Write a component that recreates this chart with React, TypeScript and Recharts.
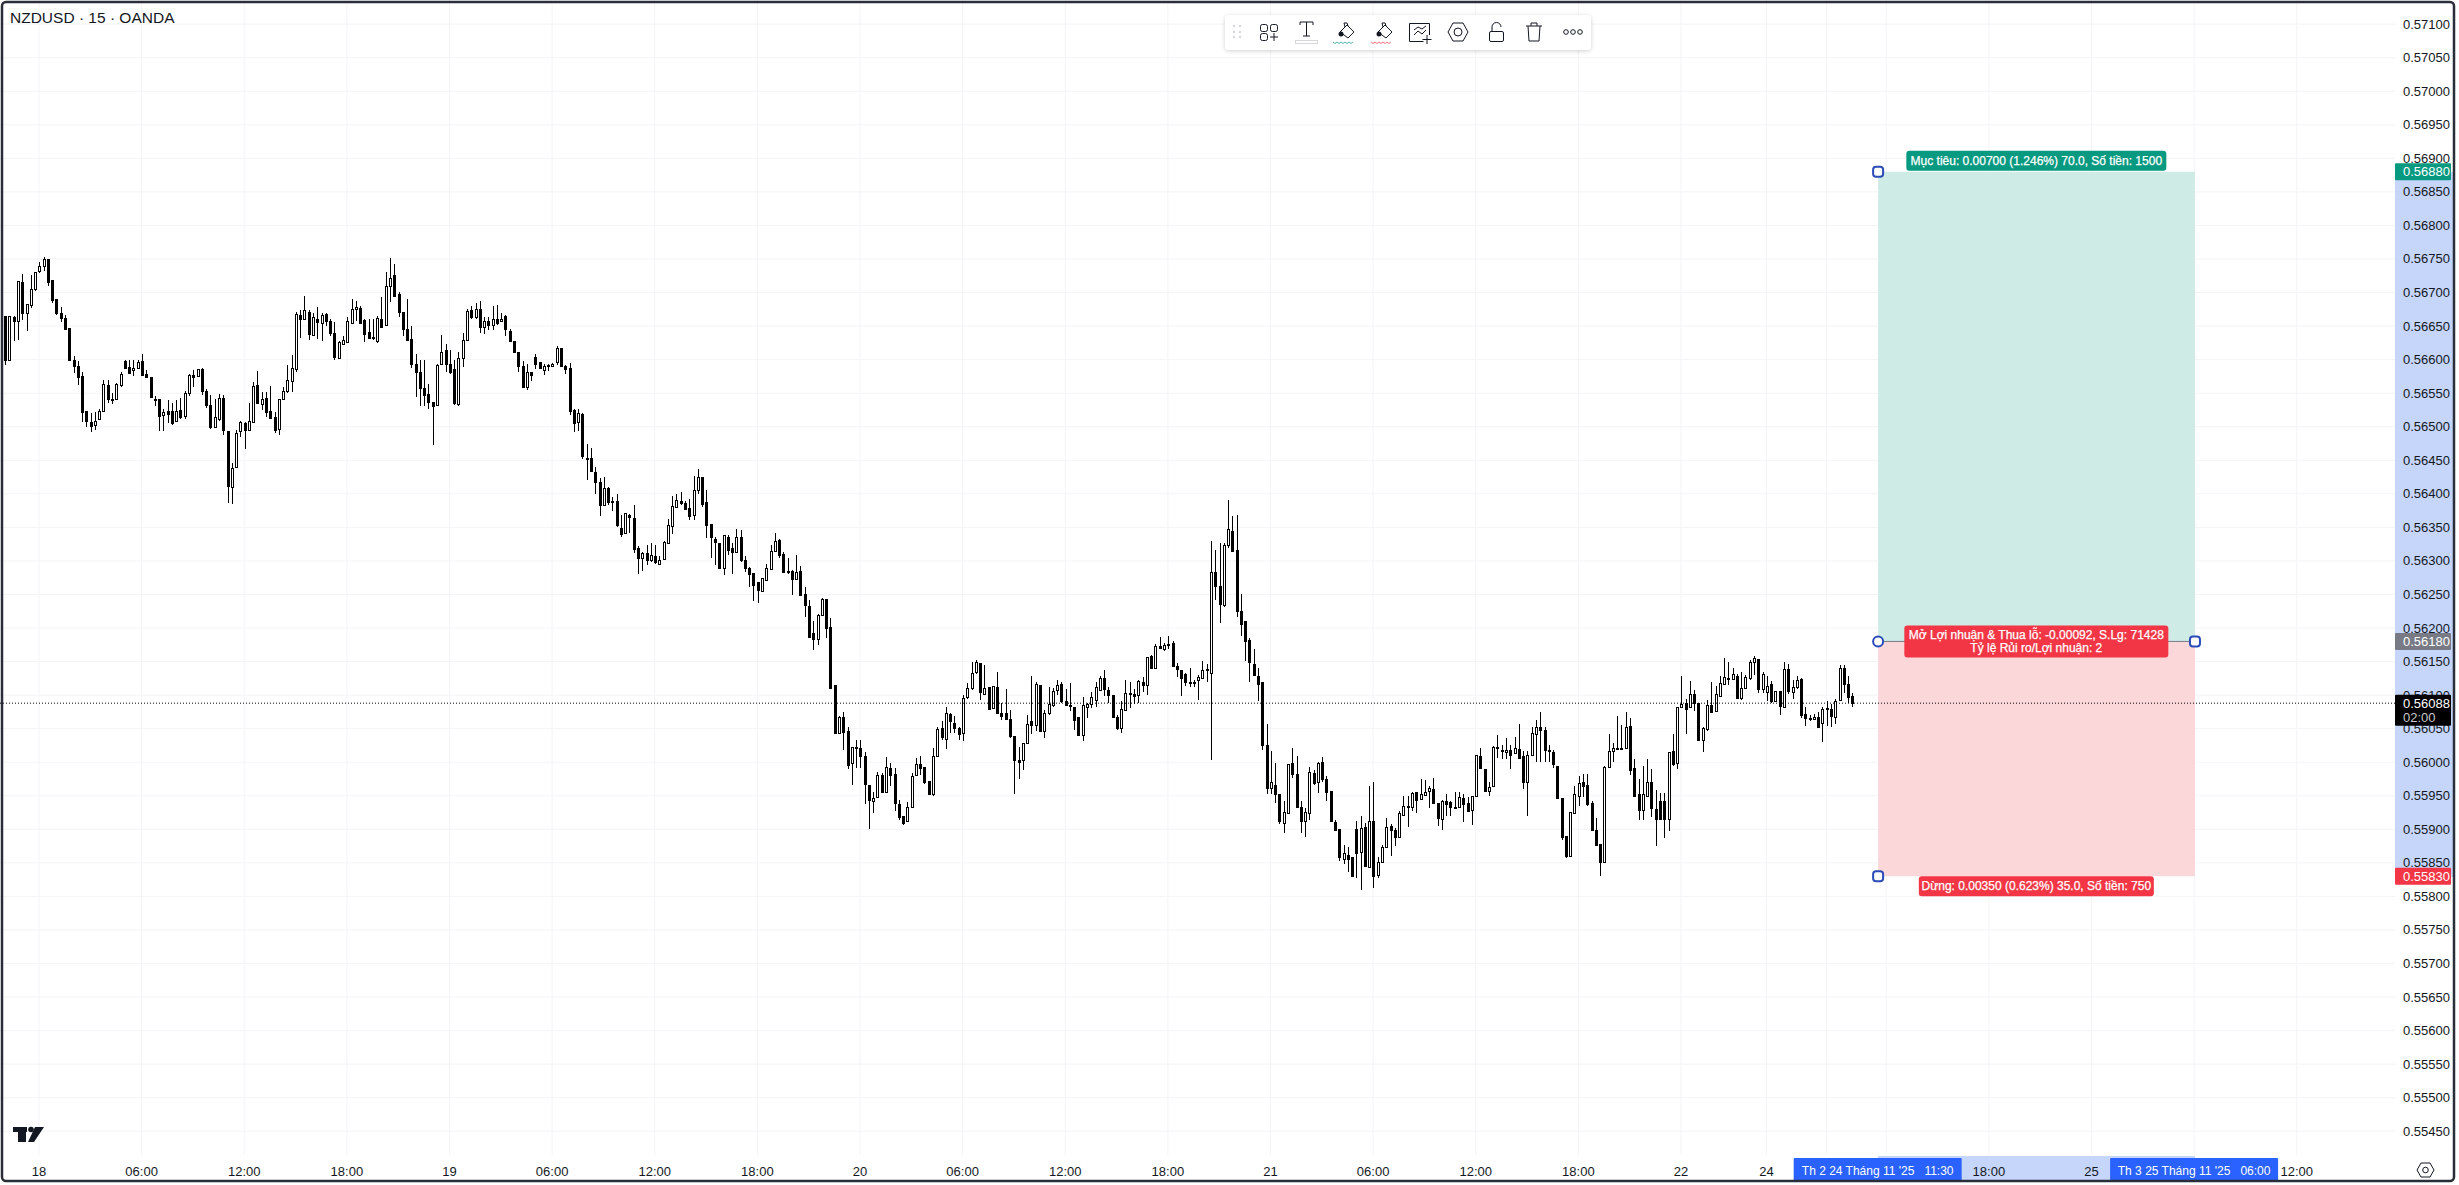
import React from 'react';
import {
  Bar,
  CartesianGrid,
  ComposedChart,
  ReferenceArea,
  ReferenceDot,
  ReferenceLine,
  XAxis,
  YAxis,
} from 'recharts';

// NZDUSD 15m, prices stored as price x 100000, rows are [open, high, low, close]
const day18 = [
  [56665,56665,56592,56599],[56599,56665,56599,56665],[56664,56665,56628,56658],[56658,56717,56629,56717],
  [56715,56728,56659,56670],[56669,56683,56643,56683],[56681,56726,56677,56705],[56705,56731,56703,56731],
  [56732,56746,56730,56739],[56740,56753,56732,56750],[56750,56750,56710,56715],[56718,56718,56683,56689],
  [56690,56690,56666,56670],[56670,56678,56656,56662],[56662,56666,56643,56645],[56647,56647,56600,56600],
  [56599,56606,56580,56591],[56591,56598,56562,56574],[56575,56581,56506,56522],[56524,56524,56500,56508],
  [56507,56520,56491,56501],[56502,56522,56495,56509],[56512,56526,56509,56523],[56523,56569,56523,56563],
  [56562,56570,56535,56541],[56541,56551,56534,56540],[56542,56565,56542,56563],[56562,56582,56560,56578],
  [56598,56599,56588,56588],[56589,56599,56579,56580],[56585,56600,56576,56588],[56588,56599,56586,56597],
  [56598,56608,56576,56577],[56578,56584,56574,56574],[56574,56574,56542,56545],[56542,56546,56531,56540],
  [56541,56541,56494,56516],[56518,56527,56494,56522],[56523,56540,56505,56519],[56523,56535,56502,56506],
  [56509,56540,56507,56524],[56525,56543,56511,56514],[56516,56554,56512,56550],[56551,56579,56546,56577],
  [56577,56584,56559,56574],[56576,56586,56574,56586],[56586,56588,56548,56554],[56553,56556,56527,56532],
  [56533,56547,56496,56499],[56500,56542,56499,56514],[56511,56549,56509,56543],[56543,56547,56488,56495],
  [56493,56493,56385,56411],[56410,56446,56385,56438],[56440,56495,56440,56490],[56493,56509,56485,56507],
  [56505,56507,56467,56495],[56495,56536,56494,56508],[56507,56567,56507,56560],[56562,56583,56536,56536],
  [56534,56552,56525,56542],[56543,56552,56515,56522],[56523,56560,56512,56513],[56514,56522,56491,56495],
  [56496,56542,56489,56542],[56542,56559,56542,56553],[56553,56592,56550,56569],[56568,56607,56552,56587],
  [56586,56671,56582,56668],[56666,56674,56632,56660],[56661,56695,56659,56674],[56671,56674,56629,56638],
  [56636,56669,56634,56663],[56661,56678,56631,56656],[56655,56669,56628,56666],[56668,56669,56649,56658],
  [56658,56660,56634,56639],[56639,56656,56599,56604],[56602,56628,56601,56627],[56624,56635,56622,56630],
  [56627,56663,56626,56657],[56654,56691,56653,56675],[56675,56688,56658,56679],[56677,56680,56653,56655],
  [56659,56661,56627,56638],[56641,56660,56630,56632],[56633,56661,56630,56632],[56628,56665,56625,56662],
  [56661,56694,56648,56649],[56652,56731,56651,56710],[56710,56752,56686,56722],[56726,56743,56694,56695],
  [56698,56701,56664,56671],[56671,56671,56635,56646],[56646,56691,56629,56629],[56631,56650,56587,56593],
  [56593,56609,56545,56581],[56581,56599,56531,56557],[56558,56600,56531,56548],[56549,56563,56526,56537],
  [56537,56537,56473,56531],[56532,56594,56532,56592],[56594,56637,56592,56612],[56614,56623,56582,56594],
];
const day19 = [
  [56594,56615,56579,56581],[56586,56599,56532,56536],[56534,56612,56531,56603],[56603,56640,56589,56630],
  [56630,56675,56630,56673],[56674,56680,56661,56663],[56664,56685,56661,56675],[56675,56687,56639,56649],
  [56649,56663,56637,56657],[56657,56663,56644,56651],[56652,56680,56644,56661],[56661,56681,56651,56655],
  [56657,56669,56656,56661],[56665,56666,56634,56645],[56642,56645,56628,56628],[56628,56628,56611,56612],
  [56612,56612,56582,56591],[56591,56598,56559,56559],[56559,56594,56555,56581],[56581,56582,56569,56577],
  [56604,56609,56586,56593],[56596,56597,56586,56587],[56585,56593,56576,56591],[56592,56594,56583,56591],
  [56591,56595,56590,56594],[56596,56620,56592,56618],[56617,56617,56588,56591],[56591,56592,56578,56586],
  [56587,56595,56517,56524],[56525,56527,56492,56506],[56507,56527,56494,56521],[56519,56521,56452,56456],
  [56454,56475,56421,56452],[56454,56468,56433,56434],[56432,56440,56400,56417],[56417,56423,56366,56383],
  [56383,56425,56383,56408],[56408,56410,56383,56388],[56389,56396,56375,56388],[56390,56400,56351,56353],
  [56349,56369,56336,56340],[56341,56372,56340,56371],[56369,56370,56342,56365],[56364,56383,56312,56318],
  [56319,56322,56281,56305],[56304,56313,56284,56312],[56312,56324,56294,56301],[56301,56327,56298,56309],
  [56307,56324,56296,56298],[56296,56307,56294,56301],[56303,56330,56302,56328],[56327,56362,56327,56353],
  [56352,56397,56341,56382],[56380,56400,56379,56391],[56390,56403,56384,56386],[56387,56389,56375,56377],
  [56379,56392,56361,56367],[56368,56426,56360,56406],[56405,56437,56399,56425],[56425,56425,56381,56385],
  [56388,56406,56334,56353],[56355,56355,56305,56335],[56333,56336,56294,56328],[56327,56327,56290,56290],
  [56289,56338,56278,56338],[56336,56338,56308,56316],[56319,56327,56281,56314],[56313,56348,56312,56336],
  [56336,56346,56298,56302],[56301,56308,56284,56289],[56289,56291,56261,56280],[56282,56282,56241,56264],
  [56268,56269,56238,56256],[56255,56274,56255,56274],[56271,56296,56270,56289],[56288,56324,56288,56315],
  [56315,56341,56314,56330],[56331,56333,56304,56309],[56311,56313,56283,56284],[56285,56305,56281,56284],
  [56285,56287,56250,56273],[56273,56309,56272,56284],[56285,56292,56247,56249],[56250,56261,56217,56234],
  [56233,56242,56187,56187],[56192,56211,56168,56184],[56184,56221,56175,56219],[56219,56245,56219,56244],
  [56244,56244,56186,56200],[56201,56215,56111,56111],[56115,56115,56043,56043],[56044,56069,56042,56067],
  [56068,56075,56018,56045],[56046,56053,55991,55996],[55999,56022,55966,56022],[56022,56033,55991,56021],
];
const day20 = [
  [56021,56033,55991,56009],[56010,56015,55937,55968],[55966,55966,55901,55943],[55942,55956,55924,55947],
  [55948,55985,55948,55981],[55981,55984,55955,55956],[55956,56008,55956,55993],[55992,55999,55964,55981],
  [55982,55991,55927,55939],[55937,55943,55913,55919],[55920,55920,55907,55909],[55912,55940,55912,55934],
  [55933,55984,55933,55980],[55981,56006,55980,55997],[55998,56009,55981,55992],[55993,55993,55968,55970],
  [55972,55972,55952,55953],[55953,56021,55949,56009],[56009,56053,56009,56050],[56051,56061,56033,56038],
  [56034,56082,56019,56073],[56072,56074,56044,56061],[56058,56069,56043,56051],[56051,56053,56034,56042],
  [56044,56100,56031,56096],[56097,56118,56094,56110],[56110,56150,56109,56133],[56134,56153,56132,56149],
  [56148,56148,56093,56104],[56102,56145,56101,56110],[56112,56112,56077,56079],[56081,56113,56080,56113],
  [56112,56134,56071,56073],[56074,56088,56062,56069],[56074,56109,56063,56064],[56064,56078,56037,56039],
  [56039,56039,55953,56004],[56004,56022,55974,56001],[56003,56029,55989,56028],[56029,56071,56029,56057],
  [56061,56129,56043,56056],[56056,56120,56047,56117],[56115,56115,56046,56046],[56047,56078,56036,56074],
  [56073,56112,56071,56087],[56085,56110,56081,56106],[56107,56123,56100,56115],[56117,56120,56088,56091],
  [56091,56109,56083,56086],[56086,56118,56076,56085],[56082,56082,56048,56063],[56067,56067,56041,56041],
  [56040,56097,56031,56086],[56082,56089,56066,56087],[56087,56105,56081,56097],[56093,56119,56081,56112],
  [56108,56128,56107,56125],[56126,56138,56099,56109],[56108,56112,56088,56100],[56100,56100,56066,56068],
  [56067,56071,56049,56051],[56051,56091,56043,56079],[56078,56123,56077,56103],[56103,56120,56081,56102],
  [56101,56109,56086,56098],[56100,56123,56088,56121],[56120,56127,56105,56115],[56115,56157,56100,56157],
  [56158,56160,56139,56140],[56140,56176,56140,56173],[56173,56187,56169,56170],[56169,56177,56165,56174],
  [56176,56188,56169,56176],[56177,56180,56142,56143],[56143,56148,56127,56139],[56138,56138,56099,56126],
  [56131,56133,56113,56119],[56120,56140,56112,56120],[56120,56123,56113,56120],[56122,56130,56093,56127],
  [56126,56151,56125,56138],[56139,56147,56120,56139],[56133,56329,56002,56283],[56283,56317,56242,56262],
  [56263,56327,56208,56236],[56234,56327,56232,56324],[56324,56391,56319,56347],[56345,56367,56313,56315],
  [56317,56369,56217,56225],[56226,56250,56187,56206],[56210,56210,56151,56180],[56182,56185,56119,56149],
  [56147,56168,56128,56130],[56129,56141,56092,56117],[56119,56119,56018,56025],[56025,56057,55952,55962],
];
const day21 = [
  [55961,56016,55952,55970],[55966,55999,55940,55953],[55952,55952,55907,55912],[55910,55942,55894,55926],
  [55925,55998,55924,55998],[55999,56021,55976,55983],[55983,56010,55934,55934],[55934,55942,55894,55913],
  [55913,55932,55889,55926],[55924,55993,55914,55986],[55984,55989,55967,55969],[55971,56001,55955,55999],
  [56001,56008,55971,55975],[55975,55979,55942,55955],[55957,55957,55912,55912],[55911,55914,55897,55899],
  [55900,55900,55852,55858],[55856,55876,55847,55865],[55861,55874,55836,55856],[55859,55859,55829,55831],
  [55900,55912,55827,55864],[55866,55920,55809,55902],[55903,55910,55844,55846],[55844,55964,55842,55912],
  [55912,55970,55812,55831],[55832,55859,55827,55852],[55852,55877,55851,55874],[55873,55917,55873,55904],
  [55905,55908,55860,55899],[55899,55902,55875,55889],[55889,55927,55888,55925],[55922,55950,55920,55935],
  [55935,55949,55903,55933],[55934,55955,55927,55954],[55955,55956,55925,55944],[55945,55975,55944,55952],
  [55951,55974,55950,55955],[55957,55964,55931,55961],[55960,55976,55938,55939],[55939,55939,55904,55917],
  [55916,55944,55900,55942],[55942,55952,55919,55937],[55940,55942,55919,55933],[55934,55955,55932,55934],
  [55933,55955,55932,55948],[55947,55953,55912,55938],[55939,55948,55927,55928],[55929,55950,55907,55950],
  [55950,56011,55950,56011],[56010,56021,55990,55991],[55990,55990,55955,55957],[55957,55971,55950,55963],
  [55965,56024,55964,56023],[56023,56041,56006,56021],[56018,56025,56004,56016],[56015,56036,56004,56018],
  [56018,56025,55989,56011],[56014,56037,56011,56021],[56019,56057,56005,56006],[56010,56016,55959,55970],
  [55971,56016,55919,56011],[56011,56052,56010,56043],[56042,56063,56001,56053],[56053,56075,56001,56048],
  [56048,56053,56001,56018],[56018,56026,56000,56017],[56015,56018,55991,55997],[55995,55995,55947,55947],
  [55946,55946,55884,55889],[55890,55890,55857,55860],[55860,55926,55859,55926],[55925,55964,55924,55952],
  [55950,55979,55935,55969],[55970,55982,55947,55964],[55966,55983,55935,55937],[55939,55942,55897,55899],
  [55899,55917,55876,55877],[55878,55878,55830,55852],[55852,55994,55851,55993],[55993,56042,55991,56017],
  [56016,56029,56001,56021],[56021,56069,56020,56021],[56021,56056,56020,56021],[56021,56075,56020,56053],
  [56054,56066,55981,55989],[55991,56005,55950,55950],[55952,55975,55914,55929],[55929,55995,55915,55953],
  [55950,56005,55949,55970],[55970,55990,55918,55932],[55930,55959,55876,55916],[55942,55954,55915,55916],
  [55942,55954,55887,55916],[55916,56015,55898,56015],[56016,56042,55995,55998],[55999,56082,55990,56082],
];
const day22 = [
  [56083,56128,56082,56087],[56088,56094,56042,56080],[56082,56121,56081,56101],[56101,56107,56075,56088],
  [56088,56088,56033,56033],[56033,56053,56016,56051],[56050,56092,56046,56086],[56086,56119,56073,56075],
  [56076,56114,56075,56101],[56099,56128,56098,56118],[56117,56156,56116,56127],[56125,56149,56115,56125],
  [56124,56141,56123,56131],[56129,56131,56095,56096],[56096,56135,56094,56110],[56110,56130,56110,56127],
  [56125,56153,56123,56149],[56150,56158,56130,56155],[56154,56154,56103,56109],[56109,56134,56103,56132],
];
const day24 = [
  [56104,56129,56092,56113],[56116,56121,56088,56091],[56091,56106,56089,56106],[56106,56106,56070,56084],
  [56082,56150,56081,56139],[56139,56147,56102,56106],[56104,56123,56095,56112],[56112,56129,56110,56122],
  [56124,56126,56066,56070],[56072,56083,56055,56066],[56066,56071,56062,56066],[56065,56072,56063,56068],
  [56067,56075,56051,56053],[56059,56083,56031,56079],[56081,56091,56053,56080],[56080,56087,56052,56069],
  [56068,56094,56056,56091],[56092,56145,56092,56140],[56140,56145,56103,56117],[56117,56128,56088,56097],
  [56098,56103,56082,56088],
];

const priceTicks = [
  57100,57050,57000,56950,56900,56850,56800,56750,56700,56650,56600,56550,56500,56450,56400,56350,56300,56250,
  56200,56150,56100,56050,56000,55950,55900,55850,55800,55750,55700,55650,55600,55550,55500,55450,
];
const badgeTicks = [56880, 56180, 55830, 56088];
const timeTicks = [0,24,48,72,96,120,144,168,192,216,240,264,288,312,336,360,384,404,430,456,480,504,528];
const timeLabels = [
  '18','06:00','12:00','18:00','19','06:00','12:00','18:00','20','06:00','12:00','18:00','21','06:00','12:00',
  '18:00','22','24',"Th 2 24 Tháng 11 '25   11:30",'18:00','25',"Th 3 25 Tháng 11 '25   06:00",'12:00',
];
const gridTimes = [0,24,48,72,96,120,144,168,192,216,240,264,288,312,336,360,384,404,418,432,456,480,504,528];

const rows = [...day18, ...day19, ...day20, ...day21, ...day22, ...day24].map(([open, high, low, close], k) => ({
  i: k - 8,
  open,
  close,
  range: [low, high],
}));

const font = '"Liberation Sans", Arial, sans-serif';
const ink = '#131722';
const badgeColors: Record<number, string> = { 56880: '#089981', 56180: '#787b86', 55830: '#f23645', 56088: '#000000' };

const Candle = (props: any) => {
  const { x, y, width, height, payload } = props;
  const [low, high] = payload.range;
  const yOf = (p: number) => (high === low ? y : y + ((high - p) / (high - low)) * height);
  const cx = Math.round(x + width / 2);
  const top = Math.round(yOf(Math.max(payload.open, payload.close)));
  const bottom = Math.max(Math.round(yOf(Math.min(payload.open, payload.close))), top + 1);
  const up = payload.close > payload.open;
  return (
    <g>
      <rect x={cx} y={Math.round(y)} width={1} height={Math.max(Math.round(height), 1)} fill="#000" />
      {up ? (
        <rect x={cx - 0.5} y={top + 0.5} width={2} height={bottom - top} fill="#fff" stroke="#000" strokeWidth={1} />
      ) : (
        <rect x={cx - 1} y={top} width={3} height={bottom - top + 1} fill="#000" />
      )}
    </g>
  );
};

const PriceTick = ({ x, y, payload }: any) => {
  const text = (payload.value / 100000).toFixed(5);
  const color = badgeColors[payload.value];
  if (!color) {
    return (
      <text x={x + 8} y={y} dominantBaseline="central" fontSize={13} fontFamily={font} fill={ink}>
        {text}
      </text>
    );
  }
  const last = payload.value === 56088;
  return (
    <g>
      <rect x={x} y={y - 8.5} width={56} height={last ? 31 : 17} rx={1} fill={color} />
      <text x={x + 8} y={y} dominantBaseline="central" fontSize={13} fontFamily={font} fill="#fff">
        {text}
      </text>
      {last && (
        <text x={x + 8} y={y + 14} dominantBaseline="central" fontSize={13} fontFamily={font} fill="#c8c8c8">
          02:00
        </text>
      )}
    </g>
  );
};

const TimeTick = ({ x, y, payload }: any) => {
  const text = timeLabels[timeTicks.indexOf(payload.value)];
  if (text.startsWith('Th ')) {
    return (
      <g>
        <rect x={x - 84} y={y + 1} width={168} height={24} rx={1} fill="#2962ff" />
        <text x={x} y={y + 14} textAnchor="middle" dominantBaseline="central" fontSize={12} fontFamily={font} fill="#fff" xmlSpace="preserve">
          {text}
        </text>
      </g>
    );
  }
  return (
    <text x={x} y={y + 14} textAnchor="middle" dominantBaseline="central" fontSize={13} fontFamily={font} fill={ink}>
      {text}
    </text>
  );
};

const tag = (fill: string, width: number, top: number, height: number, lines: string[]) => (props: any) => {
  const { cx, cy } = props;
  return (
    <g>
      <rect x={cx - width / 2} y={cy + top} width={width} height={height} rx={3} fill={fill} />
      {lines.map((line, k) => (
        <text
          key={line}
          x={cx}
          y={cy + top + height / 2 + (k - (lines.length - 1) / 2) * 13}
          textAnchor="middle"
          dominantBaseline="central"
          fontSize={12}
          fontFamily={font}
          fill="#fff"
          stroke="#fff"
          strokeWidth={0.25}
        >
          {line}
        </text>
      ))}
    </g>
  );
};

const handle = (rx: number) => (props: any) => (
  <rect x={props.cx - 5} y={props.cy - 5} width={10} height={10} rx={rx} fill="#fff" stroke="#2a4bb8" strokeWidth={2} />
);

const Toolbar = () => (
  <svg width={2459} height={60} style={{ position: 'absolute', left: 0, top: 0 }}>
    <defs>
      <filter id="soft" x="-5%" y="-30%" width="110%" height="170%">
        <feDropShadow dx="0" dy="1" stdDeviation="2" floodColor="#000" floodOpacity="0.18" />
      </filter>
    </defs>
    <rect x={1225} y={15} width={366} height={35} rx={4} fill="#fff" filter="url(#soft)" />
    <g fill="#d6d8de">
      {[26, 32, 37].map((cy) => [1234, 1240].map((cx) => <circle key={`${cx}${cy}`} cx={cx} cy={cy} r={1.2} />))}
    </g>
    <g fill="none" stroke={ink} strokeWidth={1}>
      <rect x={1260.5} y={24.5} width={7} height={7} rx={2} />
      <rect x={1270.5} y={24.5} width={7} height={7} rx={2} />
      <rect x={1260.5} y={33.5} width={7} height={7} rx={2} />
      <path d="M1274 33v8M1270 37h8" />
      <path d="M1300 25v-3h13v3M1306.5 22v14M1303 36h7" />
      <rect x={1295.5} y={40.5} width={22} height={3} stroke="#d6d8de" />
      <path d="M1340 32l7-7 7 7-6 6z M1345 27l-1-4h3l1 3" />
      <path d="M1378 32l7-7 7 7-6 6z M1383 27l-1-4h3l1 3" />
      <path d="M1429.5 35v-11.5h-20v18h14M1414 35l4-4 4 3 4-4M1414 30l4-3 4 2 4-3M1427 35v9M1422.5 39.5h9" />
      <path d="M1448 32l5-9h10l5 9-5 9h-10z" />
      <circle cx={1458} cy={32} r={4} />
      <rect x={1489.5} y={31.5} width={14} height={10} rx={1.5} />
      <path d="M1492 31v-4a4.5 4.5 0 0 1 9 0" />
      <path d="M1526 26h16M1531 26v-3h6v3M1528 26l1 15h10l1-15" />
      <circle cx={1566} cy={32} r={2.3} />
      <circle cx={1573} cy={32} r={2.3} />
      <circle cx={1580} cy={32} r={2.3} />
    </g>
    <circle cx={1341} cy={34} r={2.5} fill={ink} />
    <circle cx={1379} cy={34} r={2.5} fill={ink} />
    <path d="M1333 42l2 1.5 2-1.5 2 1.5 2-1.5 2 1.5 2-1.5 2 1.5 2-1.5 2 1.5 2-1.5" fill="none" stroke="#089981" strokeWidth={1} opacity={0.7} />
    <path d="M1371 42l2 1.5 2-1.5 2 1.5 2-1.5 2 1.5 2-1.5 2 1.5 2-1.5 2 1.5 2-1.5" fill="none" stroke="#f23645" strokeWidth={1} opacity={0.7} />
  </svg>
);

export default function App() {
  return (
    <div style={{ position: 'absolute', left: 0, top: 0, width: 2459, height: 1185, background: '#fff', overflow: 'hidden' }}>
      <div style={{ position: 'absolute', left: 2395, top: 172, width: 58, height: 705, background: '#c6d6fb' }} />
      <div style={{ position: 'absolute', left: 1878, top: 1156, width: 317, height: 24, background: '#c6d6fb' }} />
      <div style={{ position: 'absolute', left: 0, top: 0 }}>
        <ComposedChart width={2459} height={1185} data={rows} margin={{ top: 0, right: 0, bottom: 0, left: 0 }} barSize={3}>
          <CartesianGrid stroke="#f3f4f8" horizontalValues={priceTicks} verticalValues={gridTimes} />
          <XAxis
            dataKey="i"
            type="number"
            scale="linear"
            domain={[-9.12, 550.98]}
            allowDataOverflow
            ticks={timeTicks}
            interval={0}
            height={30}
            axisLine={false}
            tickLine={false}
            tickSize={0}
            tick={TimeTick}
          />
          <YAxis
            orientation="right"
            type="number"
            domain={[55414.6, 57136]}
            allowDataOverflow
            ticks={[...priceTicks, ...badgeTicks]}
            interval={0}
            width={64}
            axisLine={false}
            tickLine={false}
            tickSize={0}
            tickMargin={0}
            tick={PriceTick}
          />
          <ReferenceArea x1={430.1} x2={504.2} y1={56180} y2={56880} fill="#cfebe6" fillOpacity={1} stroke="none" />
          <ReferenceArea x1={430.1} x2={504.2} y1={55830} y2={56180} fill="#fcd7da" fillOpacity={1} stroke="none" />
          <ReferenceLine y={56088} stroke="#000" strokeDasharray="1 2" strokeWidth={1} />
          <Bar dataKey="range" isAnimationActive={false} shape={Candle} />
          <ReferenceLine segment={[{ x: 430.1, y: 56180 }, { x: 504.2, y: 56180 }]} stroke="#787b86" />
          <ReferenceDot x={467.1} y={56880} r={1} ifOverflow="visible" shape={tag('#089981', 260, -21, 20, ['Mục tiêu: 0.00700 (1.246%) 70.0, Số tiền: 1500'])} />
          <ReferenceDot
            x={467.1}
            y={56180}
            r={1}
            ifOverflow="visible"
            shape={tag('#f23645', 264, -16, 32, ['Mở Lợi nhuận & Thua lỗ: -0.00092, S.Lg: 71428', 'Tỷ lệ Rủi ro/Lợi nhuận: 2'])}
          />
          <ReferenceDot x={467.1} y={55830} r={1} ifOverflow="visible" shape={tag('#f23645', 235, 0, 20, ['Dừng: 0.00350 (0.623%) 35.0, Số tiền: 750'])} />
          <ReferenceDot x={430.1} y={56880} r={1} ifOverflow="visible" shape={handle(3)} />
          <ReferenceDot x={430.1} y={56180} r={1} ifOverflow="visible" shape={handle(5)} />
          <ReferenceDot x={504.2} y={56180} r={1} ifOverflow="visible" shape={handle(3)} />
          <ReferenceDot x={430.1} y={55830} r={1} ifOverflow="visible" shape={handle(3)} />
        </ComposedChart>
      </div>
      <div style={{ position: 'absolute', left: 10, top: 9, fontFamily: font, fontSize: 15.5, lineHeight: '18px', color: ink, whiteSpace: 'pre' }}>
        NZDUSD · 15 · OANDA
      </div>
      <Toolbar />
      <svg width={2459} height={1185} style={{ position: 'absolute', left: 0, top: 0, pointerEvents: 'none' }}>
        <path d="M13 1127h14v5h-1v10h-8v-10h-5zM35 1127h9l-10 15h-6z" fill={ink} />
        <circle cx={31} cy={1129.5} r={2.8} fill={ink} />
        <path d="M2417 1170l4-7h9l4 7-4 7h-9z" fill="none" stroke={ink} strokeWidth={1} />
        <circle cx={2425.5} cy={1170} r={2.8} fill="none" stroke={ink} strokeWidth={1} />
        <rect x={2} y={2} width={2452} height={1179} rx={4} fill="none" stroke="#2a2e39" strokeWidth={2.5} />
      </svg>
    </div>
  );
}
